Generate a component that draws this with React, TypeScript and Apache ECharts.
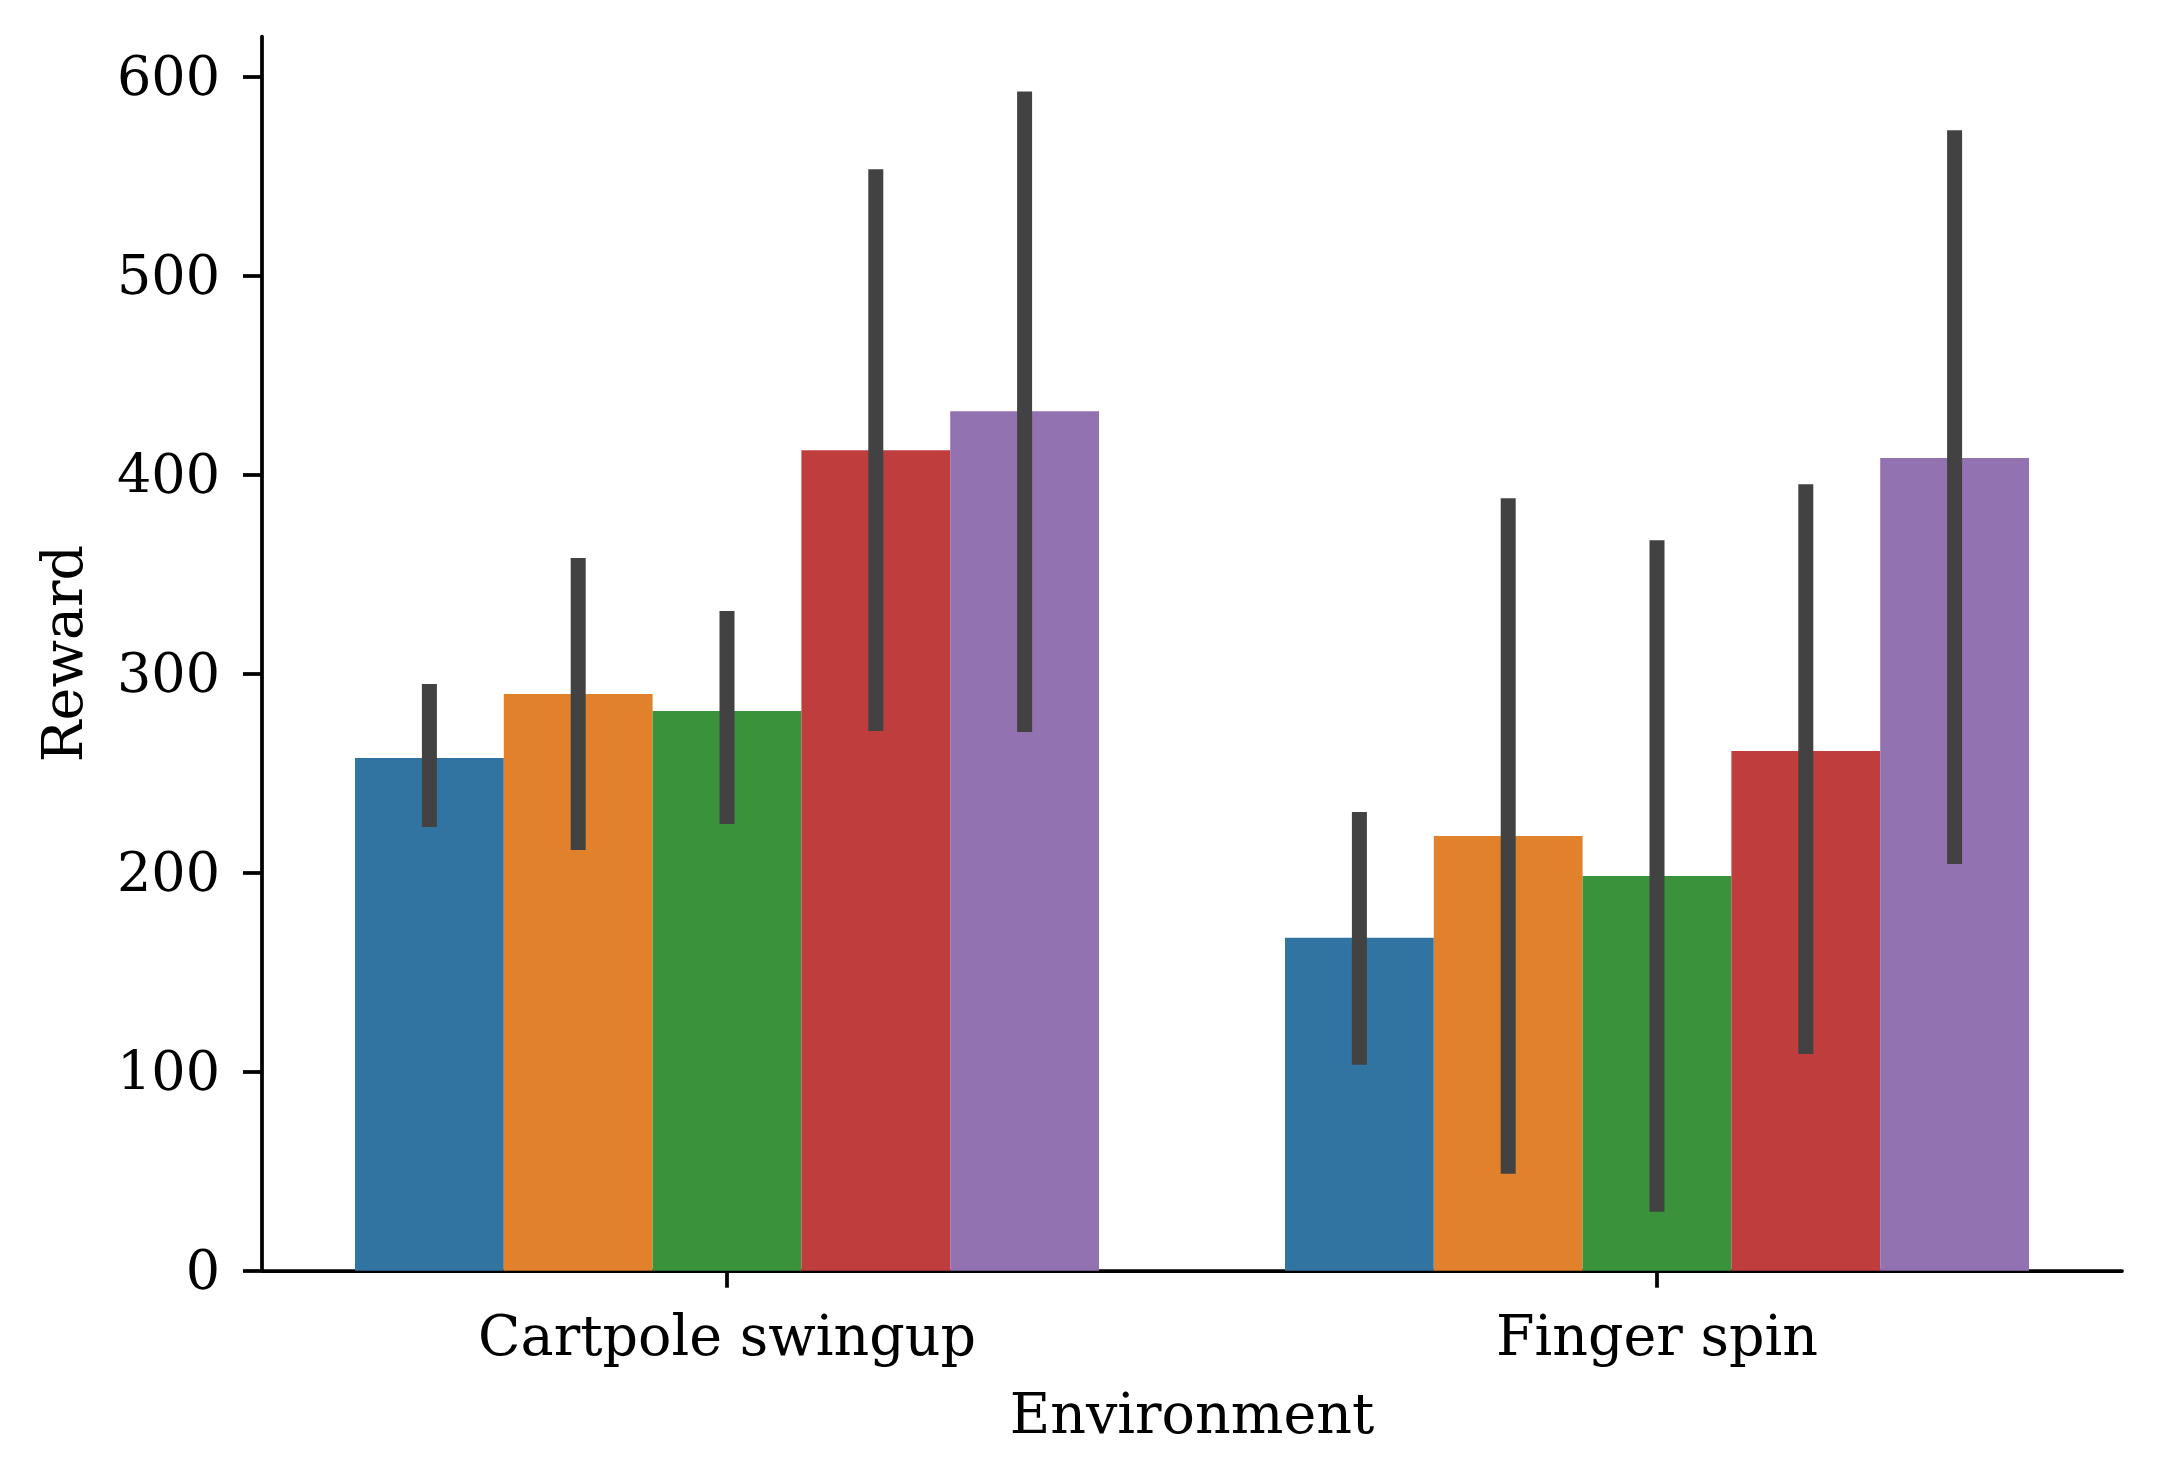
import React, { useEffect, useRef } from "react";
import * as echarts from "echarts";

const categories = ["Cartpole swingup", "Finger spin"];
const hueNames = ["Hue 1", "Hue 2", "Hue 3", "Hue 4", "Hue 5"];
const hueColors = ["#3274a1", "#e1812c", "#3a923a", "#c03d3e", "#9372b2"];

const cartpoleMean = [257.5, 289.7, 281.2, 412.2, 431.8];
const cartpoleLow = [222.9, 211.4, 224.4, 271.1, 270.6];
const cartpoleHigh = [294.7, 358.0, 331.4, 553.3, 592.4];

const fingerMean = [167.2, 218.4, 198.3, 261.1, 408.2];
const fingerLow = [103.4, 48.7, 29.6, 108.9, 204.3];
const fingerHigh = [230.4, 388.1, 367.0, 395.1, 572.9];

const yTicks = [0, 100, 200, 300, 400, 500, 600];

const FONT = "DejaVu Serif";

export default function App() {
  const ref = useRef<HTMLDivElement>(null);
  useEffect(() => {
    if (!ref.current) return;
    const chart = echarts.init(ref.current, undefined, { renderer: "svg" });
    const nHue = hueNames.length;
    const barSeries = hueNames.map((name, i) => ({
      type: "bar",
      name,
      data: [cartpoleMean[i], fingerMean[i]],
      barWidth: "16%",
      barGap: "0%",
      itemStyle: { color: hueColors[i] },
      z: 2,
    }));
    const errSeries = hueNames.map((name, i) => ({
      type: "custom",
      name: name + " CI",
      data: [
        [0, cartpoleLow[i], cartpoleHigh[i]],
        [1, fingerLow[i], fingerHigh[i]],
      ],
      encode: { x: 0, y: [1, 2] },
      z: 3,
      renderItem: (params: any, api: any) => {
        const cat = api.value(0);
        const lo = api.value(1);
        const hi = api.value(2);
        const p1 = api.coord([cat, lo]);
        const p2 = api.coord([cat, hi]);
        const band = api.size([1, 0])[0];
        const dx = (i - (nHue - 1) / 2) * 0.16 * band;
        return {
          type: "line",
          shape: { x1: p1[0] + dx, y1: p1[1], x2: p2[0] + dx, y2: p2[1] },
          style: { stroke: "#424242", lineWidth: 15, lineCap: "butt" },
        };
      },
    }));
    chart.setOption({
      animation: false,
      backgroundColor: "#ffffff",
      textStyle: { fontFamily: FONT },
      grid: { left: 262, right: 39, top: 36.5, bottom: 211.3, containLabel: false },
      xAxis: {
        type: "category",
        data: categories,
        name: "Environment",
        nameLocation: "middle",
        nameGap: 115,
        nameTextStyle: { fontFamily: FONT, fontSize: 55.5, color: "#000" },
        axisLine: { show: true, lineStyle: { color: "#000", width: 3.75 } },
        axisTick: { show: true, alignWithLabel: true, length: 17, lineStyle: { color: "#000", width: 3.75 } },
        axisLabel: { fontFamily: FONT, fontSize: 55.5, color: "#000", margin: 37 },
        splitLine: { show: false },
      },
      yAxis: {
        type: "value",
        min: 0,
        max: 620,
        interval: 100,
        name: "Reward",
        nameLocation: "middle",
        nameRotate: 90,
        nameGap: 172,
        nameTextStyle: { fontFamily: FONT, fontSize: 55.5, color: "#000" },
        axisLine: { show: true, lineStyle: { color: "#000", width: 3.75 } },
        axisTick: { show: true, length: 19, customValues: yTicks, lineStyle: { color: "#000", width: 3.75 } },
        axisLabel: { fontFamily: FONT, fontSize: 54, color: "#000", margin: 42, customValues: yTicks },
        splitLine: { show: false },
      },
      series: [...barSeries, ...errSeries],
    });
    return () => chart.dispose();
  }, []);
  return (
    <div
      ref={ref}
      style={{ position: "absolute", left: 0, top: 0, width: 2161, height: 1482, background: "#fff" }}
    />
  );
}
